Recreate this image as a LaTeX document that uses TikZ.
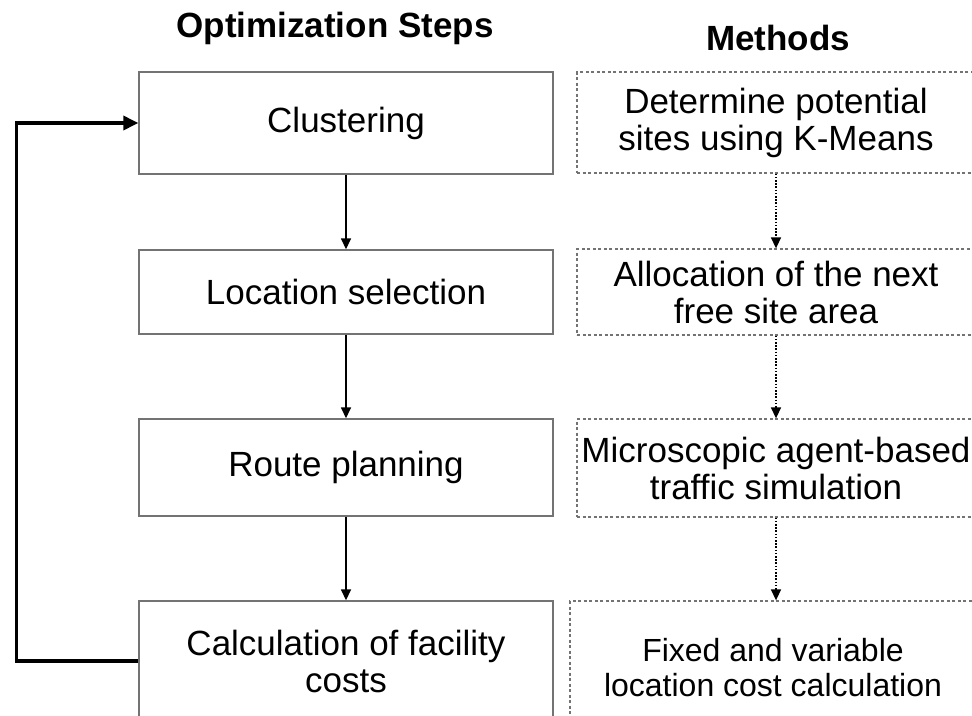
\documentclass[tikz,border=0pt]{standalone}
\usepackage{fontspec}
\setmainfont{Liberation Sans}
\usetikzlibrary{arrows.meta,calc}
\begin{document}
\begin{tikzpicture}[x=1pt,y=-1pt,
  txt/.style={font=\fontsize{35}{37}\selectfont, align=center, inner sep=0pt},
  ttl/.style={font=\fontsize{35}{37}\selectfont\bfseries, inner sep=0pt},
  stepbox/.style={txt, draw=black!55, line width=1.4pt, minimum width=414pt},
  methodbox/.style={txt, draw=black!55, line width=1.3pt, dash pattern=on 3pt off 2.5pt},
  arr/.style={draw=black, line width=1.5pt, -{Triangle[length=11pt,width=10pt]}},
  dotarr/.style={draw=black, line width=1.5pt, dash pattern=on 1.6pt off 1.6pt, -{Triangle[length=11pt,width=10pt]}},
  fb/.style={draw=black, line width=3.5pt, -{Triangle[length=15pt,width=14pt]}},
]
\clip (0,0) rectangle (972,715);
\fill[white] (0,0) rectangle (972,715);

\node[ttl] (t1) at (335,28) {Optimization Steps};
\node[ttl] (t2) at (778,38) {Methods};

\node[stepbox, minimum height=102pt] (L1) at (346,123) {Clustering};
\node[stepbox, minimum height=84pt] (L2) at (346,292) {Location selection};
\node[stepbox, minimum height=97pt] (L3) at (346,467.5) {Route planning};
\node[stepbox, minimum height=120pt] (L4) at (346,661) {Calculation of facility\\costs};

\node[methodbox, minimum width=398pt, minimum height=101pt] (R1) at (776,122.5) {Determine potential\\sites using K-Means};
\node[methodbox, minimum width=398pt, minimum height=86pt] (R2) at (776,292) {Allocation of the next\\free site area};
\node[methodbox, minimum width=398pt, minimum height=98pt] (R3) at (776,468) {Microscopic agent-based\\traffic simulation};
\node[methodbox, minimum width=406pt, minimum height=134pt, font=\fontsize{32}{35}\selectfont] (R4) at (773,668) {Fixed and variable\\location cost calculation};

\draw[arr] (L1) -- (L2);
\draw[arr] (L2) -- (L3);
\draw[arr] (L3) -- (L4);

\draw[dotarr] (R1) -- (R2);
\draw[dotarr] (R2) -- (R3);
\draw[dotarr] (R3.south) -- (R3.south |- R4.north);

\draw[fb] (L4.west) -- ++(-122,0) |- (L1.west);
\end{tikzpicture}
\end{document}
